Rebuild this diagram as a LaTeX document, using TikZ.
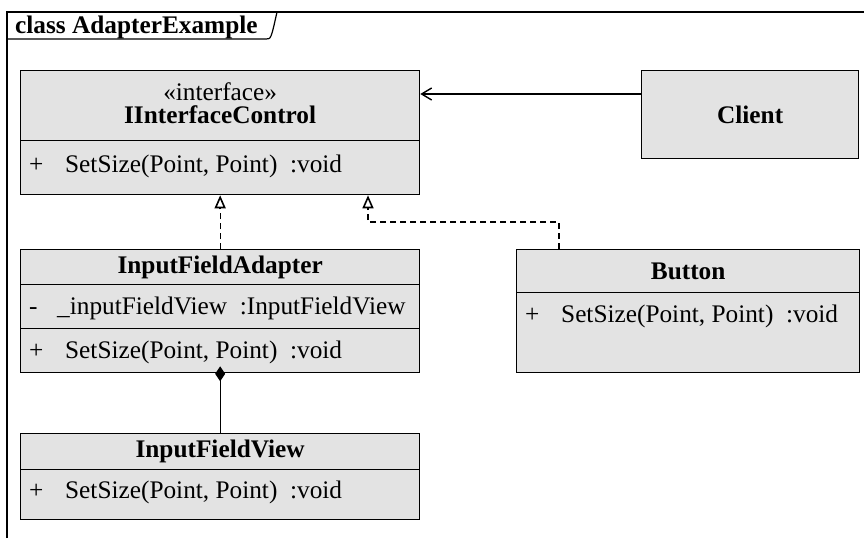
\documentclass[tikz,border=0pt]{standalone}
\usepackage{fontspec}
\setmainfont{Liberation Serif}
\usetikzlibrary{arrows.meta}
\definecolor{boxgray}{RGB}{227,227,227}
\newcommand{\umlmark}[2][36pt]{\makebox[#1][l]{#2}}

\begin{document}
\begin{tikzpicture}[x=1pt, y=-1pt,
  every node/.style={font=\fontsize{25.3pt}{30pt}\selectfont},
  part/.style={draw, fill=boxgray, line width=1.3pt, inner sep=0pt, anchor=north west, minimum width=399pt},
  rowtext/.style={anchor=west, inner sep=0pt},
  realize/.style={line width=1.1pt, dash pattern=on 6pt off 4pt},
  realtip/.style={line width=1.6pt, -{Triangle[open,length=13pt,width=11pt]}},
  assoc/.style={line width=1.1pt, -{Straight Barb[length=10pt,width=12pt,line width=1.4pt]}},
  compose/.style={line width=1.1pt, shorten >=-7pt, -{Diamond[length=15pt,width=10pt]}}]
  \useasboundingbox (0,0) rectangle (864,541);
  \def\rowdy{-24pt}

%frame:
  \draw[line width=1.2pt] (7,538) -- (7,12) -- (864,12);
  \draw[line width=1.2pt] (7,39) -- (266,39) .. controls (271,39) .. (277,12);
  \node[anchor=base west, inner sep=0pt] (frameTitle) at (15,33) {\textbf{class AdapterExample}};

%classes:
  \node[part, minimum height=70pt, align=center, font=\fontsize{25.3pt}{23pt}\selectfont] (ic) at (20,70) {«interface»\\\textbf{IInterfaceControl}\rule[-6pt]{0pt}{0pt}};
  \node[part, minimum height=54pt] (icOps) at (20,140) {};
  \node[rowtext] (icOp) at ([xshift=9pt,yshift=-26pt]icOps.north west) {\umlmark{+}SetSize(Point, Point)~~:void};

  \node[part, minimum width=217pt, minimum height=88pt] (client) at (641,70) {\textbf{Client}};

  \node[part, minimum height=35pt] (ifa) at (20,249) {\textbf{InputFieldAdapter}};
  \node[part, minimum height=44pt] (ifaAttr) at (20,284) {};
  \node[part, minimum height=44pt] (ifaOps) at (20,328) {};
  \node[rowtext] (ifaAt) at ([xshift=9pt,yshift=\rowdy]ifaAttr.north west) {\umlmark[28pt]{-}\_inputFieldView~~:InputFieldView};
  \node[rowtext] (ifaOp) at ([xshift=9pt,yshift=\rowdy]ifaOps.north west) {\umlmark{+}SetSize(Point, Point)~~:void};

  \node[part, minimum height=36pt] (ifv) at (20,433) {\textbf{InputFieldView}};
  \node[part, minimum height=50pt] (ifvOps) at (20,469) {};
  \node[rowtext] (ifvOp) at ([xshift=9pt,yshift=-23pt]ifvOps.north west) {\umlmark{+}SetSize(Point, Point)~~:void};

  \node[part, minimum width=343pt, minimum height=43pt] (btn) at (516,249) {\textbf{Button}};
  \node[part, minimum width=343pt, minimum height=80pt] (btnOps) at (516,292) {};
  \node[rowtext] (btnOp) at ([xshift=9pt,yshift=\rowdy]btnOps.north west) {\umlmark{+}SetSize(Point, Point)~~:void};

%relations:
  \coordinate (clientPort) at ([yshift=-24pt]client.north west);
  \coordinate (btnPort) at ([xshift=43pt]btn.north west);
  \coordinate (icPort) at ([xshift=348pt]icOps.south west);
  \coordinate (ifaTip) at ([yshift=-14pt]icOps.south);
  \coordinate (btnTip) at ([yshift=-14pt]icPort);
  \draw[assoc] (clientPort) -- (clientPort -| ic.east);
  \draw[realize] (ifa.north) -- (ifaTip);
  \draw[realtip] (ifaTip) -- (icOps.south);
  \draw[realize] (btnPort) -- ++(0,-27) -| (btnTip);
  \draw[realtip] (btnTip) -- (icPort);
  \draw[compose] (ifv.north) -- (ifaOps.south);
\end{tikzpicture}
\end{document}
